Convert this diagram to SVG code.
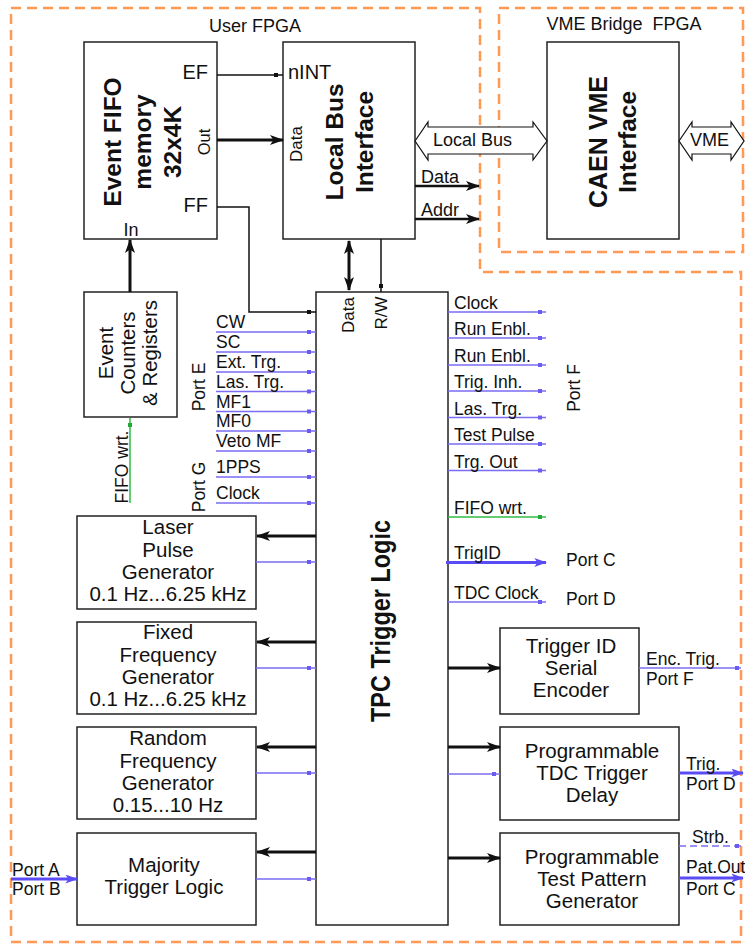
<svg xmlns="http://www.w3.org/2000/svg" width="745" height="945" viewBox="0 0 745 945">
<style>
.bg{fill:#fff}
.box{fill:#fff;stroke:#222;stroke-width:1.5}
.fpga{fill:none;stroke:#ff9955;stroke-width:2.5;stroke-dasharray:10 6}
text{font-family:"Liberation Sans",Arial,sans-serif;fill:#111}
.s{font-size:17.5px}
.m{font-size:20px}
.bt{font-size:20.5px;text-anchor:middle}
.ti{font-size:24.5px;font-weight:bold;text-anchor:middle}
.mid{text-anchor:middle}
.end{text-anchor:end}
.k{stroke:#111;stroke-width:1.5;fill:none}
.kt{stroke:#111;stroke-width:3;fill:none}
.b{stroke:#7b6cf2;stroke-width:1.5;fill:none}
.bd{stroke:#7b6cf2;stroke-width:1.5;fill:none;stroke-dasharray:7 4}
.bt3{stroke:#5a4cf5;stroke-width:3;fill:none}
.g{stroke:#33bb44;stroke-width:1.5;fill:none}
.hol{fill:#fff;stroke:#111;stroke-width:1.2}
.dk{fill:#111}
.db{fill:#6a5cf0}
.dg{fill:#22aa33}
</style>
<defs>
<marker id="ak" viewBox="0 0 14 10" refX="13" refY="5" markerWidth="14" markerHeight="10" markerUnits="userSpaceOnUse" orient="auto-start-reverse">
<path d="M0,0 L14,5 L0,10 L3.5,5 Z" fill="#111"/>
</marker>
<marker id="ab" viewBox="0 0 14 10" refX="13" refY="5" markerWidth="14" markerHeight="9" markerUnits="userSpaceOnUse" orient="auto">
<path d="M0,0 L14,5 L0,10 L3.5,5 Z" fill="#5a4cf5"/>
</marker>
</defs>
<rect class="bg" x="0" y="0" width="745" height="945"/>

<g id="user-fpga">
<path class="fpga" d="M11,8 H480 V272 H741 V942 H11 Z"/>
<text class="mid" x="255" y="32" style="font-size:18px">User FPGA</text>
</g>
<g id="vme-bridge-fpga">
<path class="fpga" d="M499,8 H743 V252 H499 Z"/>
<text class="mid" x="624" y="30" style="font-size:18px">VME Bridge&#160; FPGA</text>
</g>

<g id="event-fifo">
<rect class="box" x="84" y="42" width="133" height="197"/>
<text class="ti" transform="translate(121,142) rotate(-90)">Event FIFO</text>
<text class="ti" transform="translate(151,142) rotate(-90)">memory</text>
<text class="ti" transform="translate(181,142) rotate(-90)">32x4K</text>
<text class="m end" x="208" y="79">EF</text>
<text class="m end" x="208" y="212">FF</text>
<text class="s mid" transform="translate(210,142) rotate(-90)" style="font-size:16.5px">Out</text>
<text class="s mid" x="131" y="236" style="font-size:18px">In</text>
</g>

<g id="local-bus-interface">
<rect class="box" x="283" y="42" width="132" height="197"/>
<text class="ti" transform="translate(343,142) rotate(-90)">Local Bus</text>
<text class="ti" transform="translate(373,142) rotate(-90)">Interface</text>
<text class="m" x="288" y="79">nINT</text>
<text class="s mid" transform="translate(302,144) rotate(-90)" style="font-size:17px">Data</text>
</g>

<g id="caen-vme-interface">
<rect class="box" x="547" y="42" width="132" height="197"/>
<text class="ti" transform="translate(607,142) rotate(-90)" style="font-size:25px">CAEN VME</text>
<text class="ti" transform="translate(636,142) rotate(-90)">Interface</text>
</g>

<g id="event-counters">
<rect class="box" x="84" y="292" width="93" height="125"/>
<text class="bt" transform="translate(113,353) rotate(-90)">Event</text>
<text class="bt" transform="translate(135,353) rotate(-90)">Counters</text>
<text class="bt" transform="translate(157,353) rotate(-90)">&amp; Registers</text>
</g>

<g id="tpc-trigger-logic">
<rect class="box" x="316" y="292" width="132" height="633"/>
<text class="mid" transform="translate(390,621) rotate(-90)" style="font-size:27px;font-weight:bold" textLength="202" lengthAdjust="spacingAndGlyphs">TPC Trigger Logic</text>
<text class="s mid" transform="translate(354,315) rotate(-90)" style="font-size:17px">Data</text>
<text class="s mid" transform="translate(387,313) rotate(-90)" style="font-size:17px">R/W</text>
</g>

<g id="laser-pulse-generator">
<rect class="box" x="77" y="516" width="179" height="93"/>
<text class="bt" x="168" y="534">Laser</text>
<text class="bt" x="168" y="556.5">Pulse</text>
<text class="bt" x="168" y="579">Generator</text>
<text class="bt" x="168" y="601">0.1 Hz...6.25 kHz</text>
</g>

<g id="fixed-frequency-generator">
<rect class="box" x="77" y="622" width="179" height="92"/>
<text class="bt" x="168" y="639">Fixed</text>
<text class="bt" x="168" y="661.5">Frequency</text>
<text class="bt" x="168" y="684">Generator</text>
<text class="bt" x="168" y="706">0.1 Hz...6.25 kHz</text>
</g>

<g id="random-frequency-generator">
<rect class="box" x="77" y="727" width="179" height="92"/>
<text class="bt" x="168" y="745">Random</text>
<text class="bt" x="168" y="767.5">Frequency</text>
<text class="bt" x="168" y="790">Generator</text>
<text class="bt" x="168" y="812">0.15...10 Hz</text>
</g>

<g id="majority-trigger-logic">
<rect class="box" x="77" y="833" width="179" height="92"/>
<text class="bt" x="164" y="872">Majority</text>
<text class="bt" x="164" y="894">Trigger Logic</text>
</g>

<g id="trigger-id-serial-encoder">
<rect class="box" x="500" y="628" width="139" height="86"/>
<text class="bt" x="571" y="653">Trigger ID</text>
<text class="bt" x="571" y="675">Serial</text>
<text class="bt" x="571" y="697">Encoder</text>
</g>

<g id="tdc-trigger-delay">
<rect class="box" x="500" y="727" width="179" height="93"/>
<text class="bt" x="592" y="758">Programmable</text>
<text class="bt" x="592" y="780">TDC Trigger</text>
<text class="bt" x="592" y="802">Delay</text>
</g>

<g id="test-pattern-generator">
<rect class="box" x="500" y="833" width="179" height="92"/>
<text class="bt" x="592" y="864">Programmable</text>
<text class="bt" x="592" y="886">Test Pattern</text>
<text class="bt" x="592" y="908">Generator</text>
</g>

<g id="connectors">
<path class="k" d="M217,75 H283"/>
<rect class="dk" x="274" y="73" width="4" height="4"/>
<path class="kt" d="M217,140 H283" marker-end="url(#ak)"/>
<path class="k" d="M217,207 H249 V312 H316"/>
<rect class="dk" x="307" y="310" width="4" height="4"/>
<path class="kt" d="M130,292 V240" marker-end="url(#ak)"/>
<path class="hol" d="M415,141 L428,122 L428,127 L533,127 L533,122 L547,141 L533,160 L533,154 L428,154 L428,160 Z"/>
<text x="433" y="146" style="font-size:18px">Local Bus</text>
<path class="hol" d="M679,141 L692,122 L692,127 L731,127 L731,122 L744,141 L731,160 L731,154 L692,154 L692,160 Z"/>
<text x="690" y="146" style="font-size:18px">VME</text>
<path class="kt" d="M415,186 H479" marker-end="url(#ak)" style="stroke-width:2.5"/>
<text x="421" y="183" style="font-size:18px">Data</text>
<path class="kt" d="M415,219 H479" marker-end="url(#ak)" style="stroke-width:2.5"/>
<text x="421" y="216" style="font-size:18px">Addr</text>
<path class="kt" d="M349,241 V290" marker-start="url(#ak)" marker-end="url(#ak)"/>
<path class="k" d="M381,239 V292"/>
<rect class="dk" x="379" y="284" width="4" height="4"/>
<path class="g" d="M130,418 V503"/>
<rect class="dg" x="128" y="423" width="4" height="4"/>
<text class="s mid" transform="translate(128,467) rotate(-90)">FIFO wrt.</text>
<text class="s mid" transform="translate(205,387) rotate(-90)">Port E</text>
<text class="s mid" transform="translate(205,487) rotate(-90)">Port G</text>
<path class="b" d="M216,332 H316 M216,352 H316 M216,372 H316 M216,391.5 H316 M216,411.5 H316 M216,431 H316 M216,451 H316 M216,477 H316 M216,503 H316"/>
<g class="db">
<rect x="307" y="330" width="4" height="4"/><rect x="307" y="350" width="4" height="4"/><rect x="307" y="370" width="4" height="4"/><rect x="307" y="389.5" width="4" height="4"/><rect x="307" y="409.5" width="4" height="4"/><rect x="307" y="429" width="4" height="4"/><rect x="307" y="449" width="4" height="4"/><rect x="307" y="475" width="4" height="4"/><rect x="307" y="501" width="4" height="4"/>
</g>
<text class="s" x="216" y="328">CW</text>
<text class="s" x="216" y="348">SC</text>
<text class="s" x="216" y="368">Ext. Trg.</text>
<text class="s" x="216" y="387.5">Las. Trg.</text>
<text class="s" x="216" y="407.5">MF1</text>
<text class="s" x="216" y="427">MF0</text>
<text class="s" x="216" y="447">Veto MF</text>
<text class="s" x="216" y="473">1PPS</text>
<text class="s" x="216" y="499">Clock</text>
<path class="b" d="M448,312 H546 M448,338 H546 M448,365 H546 M448,391 H546 M448,417.5 H546 M448,444 H546 M448,470.5 H546 M448,602 H546"/>
<g class="db">
<rect x="538" y="310" width="4" height="4"/><rect x="538" y="336" width="4" height="4"/><rect x="538" y="363" width="4" height="4"/><rect x="538" y="389" width="4" height="4"/><rect x="538" y="415.5" width="4" height="4"/><rect x="538" y="442" width="4" height="4"/><rect x="538" y="468.5" width="4" height="4"/><rect x="538" y="600" width="4" height="4"/>
</g>
<path class="g" d="M448,517 H546"/>
<rect class="dg" x="538" y="515" width="4" height="4"/>
<path class="bt3" d="M446,562.5 H546" marker-end="url(#ab)"/>
<text class="s" x="454" y="309">Clock</text>
<text class="s" x="454" y="335">Run Enbl.</text>
<text class="s" x="454" y="362">Run Enbl.</text>
<text class="s" x="454" y="388">Trig. Inh.</text>
<text class="s" x="454" y="414.5">Las. Trg.</text>
<text class="s" x="454" y="441">Test Pulse</text>
<text class="s" x="454" y="467.5">Trg. Out</text>
<text class="s" x="454" y="514">FIFO wrt.</text>
<text class="s" x="454" y="559">TrigID</text>
<text class="s" x="454" y="599">TDC Clock</text>
<text class="s mid" transform="translate(580,388) rotate(-90)">Port F</text>
<text class="s" x="566" y="566">Port C</text>
<text class="s" x="566" y="605">Port D</text>
<path class="kt" d="M316,536 H257" marker-end="url(#ak)"/>
<path class="kt" d="M316,642 H257" marker-end="url(#ak)"/>
<path class="kt" d="M316,747 H257" marker-end="url(#ak)"/>
<path class="kt" d="M316,852 H257" marker-end="url(#ak)"/>
<path class="b" d="M256,562 H316 M256,668 H316 M256,773 H316 M256,879 H316"/>
<g class="db">
<rect x="307" y="560" width="4" height="4"/><rect x="307" y="666" width="4" height="4"/><rect x="307" y="771" width="4" height="4"/><rect x="307" y="877" width="4" height="4"/>
</g>
<path class="bt3" d="M11,879 H77" marker-end="url(#ab)"/>
<text class="s" x="12" y="876">Port A</text>
<text class="s" x="12" y="895">Port B</text>
<path class="kt" d="M448,668 H500" marker-end="url(#ak)"/>
<path class="kt" d="M448,747 H500" marker-end="url(#ak)"/>
<path class="kt" d="M448,858 H500" marker-end="url(#ak)"/>
<path class="b" d="M448,774 H500"/>
<rect class="db" x="492" y="772" width="4" height="4"/>
<path class="b" d="M639,668 H741"/>
<rect class="db" x="735" y="666" width="4" height="4"/>
<text class="s" x="646" y="665">Enc. Trig.</text>
<text class="s" x="646" y="685">Port F</text>
<path class="bt3" d="M679,773 H743" marker-end="url(#ab)"/>
<text class="s" x="686" y="770">Trig.</text>
<text class="s" x="686" y="790">Port D</text>
<path class="bd" d="M679,846 H741"/>
<rect class="db" x="735" y="844" width="4" height="4"/>
<text class="s" x="692" y="843">Strb.</text>
<path class="bt3" d="M679,878 H743" marker-end="url(#ab)"/>
<text class="s" x="686" y="873">Pat.Out</text>
<text class="s" x="686" y="895">Port C</text>
</g>
</svg>
